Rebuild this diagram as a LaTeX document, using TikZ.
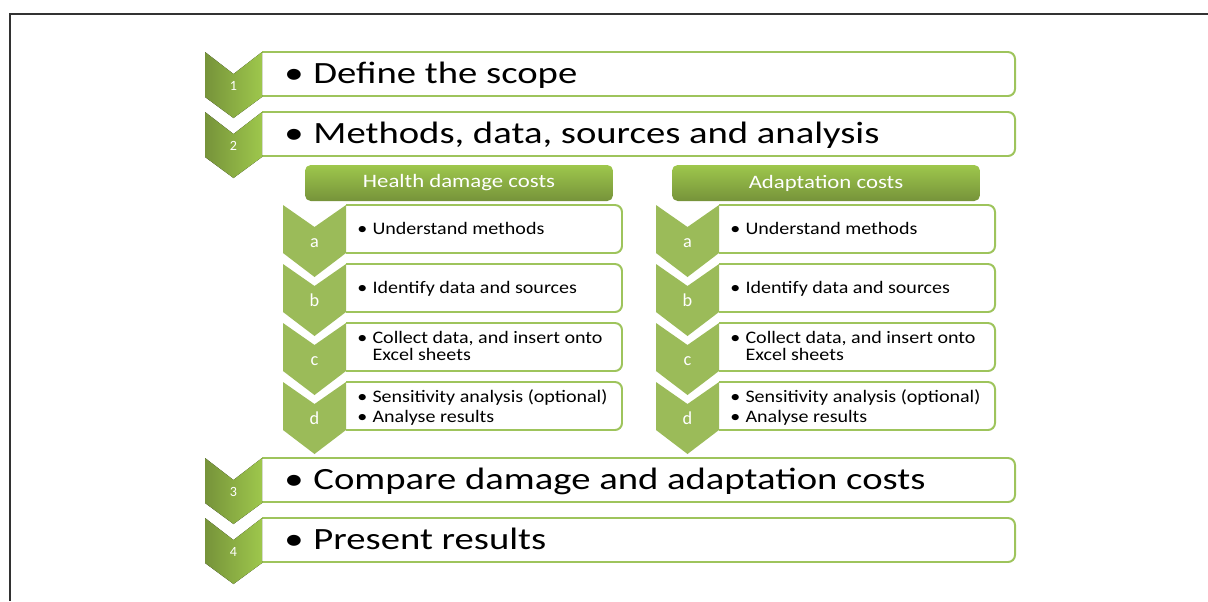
\documentclass[tikz,border=0pt]{standalone}
\usepackage{fontspec}
\setmainfont{Carlito}
\newfontfamily\mainwide[FakeStretch=1.25]{Carlito}
\newfontfamily\subwide[FakeStretch=1.14]{Carlito}
\newfontfamily\headwide[FakeStretch=1.2]{Carlito}
\definecolor{olivedark}{RGB}{118,147,58}
\definecolor{olivelight}{RGB}{158,199,76}
\definecolor{olivemid}{RGB}{155,187,89}
\definecolor{boxline}{RGB}{158,196,92}
\definecolor{frameline}{RGB}{50,50,50}
\tikzstyle{frame line}=[draw=frameline, line width=1.7pt]
\tikzstyle{step box}=[draw=boxline, fill=white, line width=1.4pt, rounded corners=5pt]
\tikzstyle{main chevron}=[left color=olivedark, right color=olivelight]
\tikzstyle{sub chevron}=[fill=olivemid]
\tikzstyle{main number}=[text=white, font=\fontsize{10}{11}\selectfont, anchor=base, inner sep=0pt]
\tikzstyle{sub letter}=[text=white, font=\fontsize{13}{14}\selectfont, anchor=base, inner sep=0pt]
\tikzstyle{main text}=[font=\mainwide\fontsize{22}{26}\selectfont, anchor=base west, inner sep=0pt]
\tikzstyle{sub text}=[font=\subwide\fontsize{12.5}{15}\selectfont, anchor=base west, inner sep=0pt]
\tikzstyle{header}=[top color=olivelight, bottom color=olivedark, rounded corners=4pt,
  minimum width=219pt, minimum height=25.6pt, text=white, font=\headwide\fontsize{13.5}{16}\selectfont]

\begin{document}
\begin{tikzpicture}[x=0.025cm, y=-0.025cm]
  \useasboundingbox (0,0) rectangle (1208,601);
  \draw[frame line] (10,601) -- (10,14) -- (1208,14);
  % main steps
  \foreach \y/\n/\txt in {52/1/{Define the scope},
      112/2/{Methods, data, sources and analysis},
      458/3/{Compare damage and adaptation costs},
      518/4/{Present results}} {
    \draw[step box] (262,\y) -- (1015,\y) -- (1015,\y+44) -- (262,\y+44);
    \fill[main chevron] (205,\y) -- (233.5,\y+22) -- (262,\y) -- (262,\y+45)
      -- (233.5,\y+66) -- (205,\y+45) -- cycle;
    \node[main number] (num\n) at (233.5,\y+38) {\n};
    \node[main text] (step\n) at (284,\y+31) {\textbullet\hspace{0.32em}\txt};
  }
  % two columns of sub steps
  \node[header] (health) at (459,183) {Health damage costs};
  \node[header] (adapt) at (826,183) {Adaptation costs};
  \foreach \x/\r/\c in {283/622/h, 656/995/a} {
    \foreach \y/\l in {205/a, 264/b, 323/c, 382/d} {
      \draw[step box] (\x+63,\y) -- (\r,\y) -- (\r,\y+48) -- (\x+63,\y+48);
      \fill[sub chevron] (\x,\y) -- (\x+31.5,\y+22) -- (\x+63,\y) -- (\x+63,\y+48)
        -- (\x+31.5,\y+72) -- (\x,\y+48) -- cycle;
      \node[sub letter] (\c-\l) at (\x+31.5,\y+42) {\l};
    }
    \node[sub text] (\c-ta) at (\x+74,234) {\textbullet\hspace{0.3em}Understand methods};
    \node[sub text] (\c-tb) at (\x+74,293) {\textbullet\hspace{0.3em}Identify data and sources};
    \node[sub text] (\c-tc1) at (\x+74,343) {\textbullet\hspace{0.3em}Collect data, and insert onto};
    \node[sub text] (\c-tc2) at (\x+74,360) {\phantom{\textbullet\hspace{0.3em}}Excel sheets};
    \node[sub text] (\c-td1) at (\x+74,402) {\textbullet\hspace{0.3em}Sensitivity analysis (optional)};
    \node[sub text] (\c-td2) at (\x+74,422) {\textbullet\hspace{0.3em}Analyse results};
  }
\end{tikzpicture}
\end{document}
